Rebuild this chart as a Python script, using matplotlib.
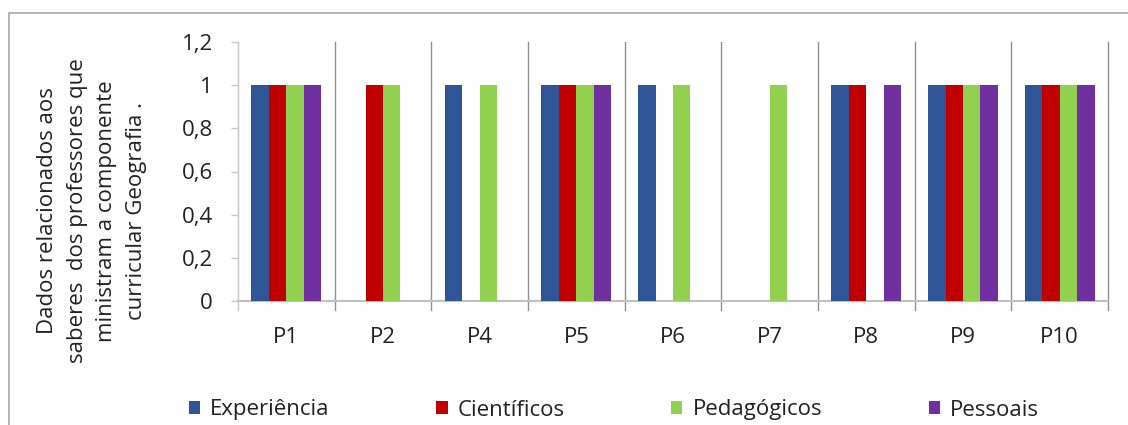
import matplotlib
matplotlib.use("Agg")
import matplotlib.pyplot as plt
import numpy as np
from matplotlib.patches import Rectangle

categories = ["P1", "P2", "P4", "P5", "P6", "P7", "P8", "P9", "P10"]
experiencia = [1, 0, 1, 1, 1, 0, 1, 1, 1]
cientificos = [1, 1, 0, 1, 0, 0, 1, 1, 1]
pedagogicos = [1, 1, 1, 1, 1, 1, 0, 1, 1]
pessoais = [1, 0, 0, 1, 0, 0, 1, 1, 1]
series_names = ["Experiência", "Científicos", "Pedagógicos", "Pessoais"]
colors = ["#2F5597", "#C00000", "#92D050", "#7030A0"]
yticks = [0, 0.2, 0.4, 0.6, 0.8, 1.0, 1.2]
ytick_labels = ["0", "0,2", "0,4", "0,6", "0,8", "1", "1,2"]

plt.rcParams['font.family'] = ['Open Sans', 'DejaVu Sans']
FS = 16

W, H = 1128, 425
fig = plt.figure(figsize=(W / 100, H / 100), dpi=100)
ax = fig.add_axes([238 / W, 1 - 301 / H, (1108 - 238) / W, (301 - 42) / H])

x = np.arange(len(categories))
bw = 0.181
data = [experiencia, cientificos, pedagogicos, pessoais]
handles = []
for i, (vals, c, name) in enumerate(zip(data, colors, series_names)):
    b = ax.bar(x + (i - 1.5) * bw, vals, bw, color=c, label=name, zorder=3)
    handles.append(b)

ax.set_xlim(-0.5, len(categories) - 0.5)
ax.set_ylim(0, 1.2)
ax.set_yticks(yticks)
ax.set_yticklabels(ytick_labels, fontsize=FS, color="#222222")
ax.set_xticks(x)
ax.set_xticklabels(categories, fontsize=FS, color="#222222")
ax.tick_params(axis="x", length=0, pad=19)
ax.tick_params(axis="y", length=5, width=1, color="#c8c8c8", pad=13)

for s in ["top", "right"]:
    ax.spines[s].set_visible(False)
ax.spines["left"].set_color("#c8c8c8")
ax.spines["bottom"].set_color("#c0c0c0")
ax.spines["bottom"].set_linewidth(1.5)

ext = 9 / 259
for b in np.arange(-0.5, len(categories), 1.0):
    col = "#c8c8c8" if b < 0 else "#909090"
    ax.axvline(b, ymin=-ext, ymax=1, color=col, lw=1, clip_on=False, zorder=1)

fig.text(92 / W, 1 - 211 / H,
         "Dados relacionados aos\nsaberes  dos professores que\nministram a componente\ncurricular Geografia .",
         rotation=90, ha="center", va="center", fontsize=FS, linespacing=1.55,
         color="#222222")

leg = fig.legend(handles, series_names, loc="center", bbox_to_anchor=(614 / W, 1 - 410 / H),
                 ncol=4, frameon=False, fontsize=FS, handlelength=0.5, handleheight=0.5,
                 handletextpad=0.45, columnspacing=4.8)
for t in leg.get_texts():
    t.set_color("#222222")

fig.patches.append(Rectangle((9 / W, -0.2), 1.2, 1.2 - 13 / H, transform=fig.transFigure,
                             fill=False, edgecolor="#a8a8a8", lw=1.2))

fig.savefig("out.png", dpi=100)
